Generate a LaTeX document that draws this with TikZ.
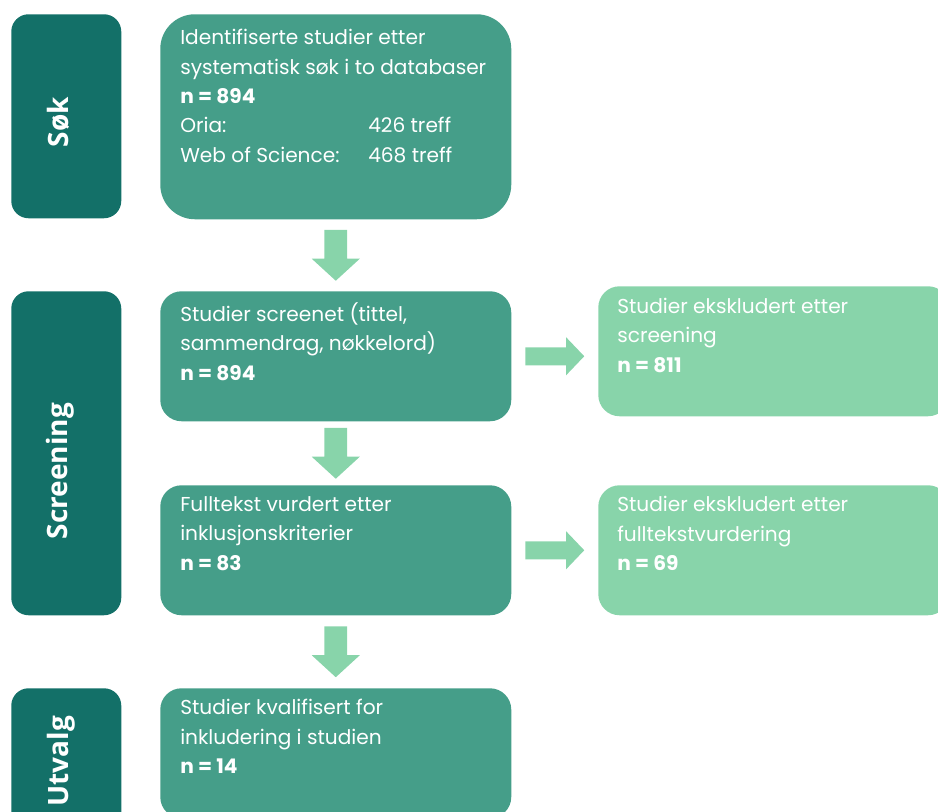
\documentclass[tikz,border=0pt]{standalone}
\usepackage{fontspec}
\setmainfont{Poppins}
\newfontfamily\labelfont{Open Sans}
\usetikzlibrary{positioning, calc}
\definecolor{darkteal}{RGB}{19,112,104}
\definecolor{midteal}{RGB}{69,158,137}
\definecolor{mintgreen}{RGB}{136,212,170}

\tikzset{
  phase/.style={fill=darkteal, rounded corners=13pt, anchor=north west,
    minimum width=82.5pt, inner sep=0pt},
  phasetext/.style={rotate=90, anchor=base, text=white,
    font=\labelfont\bfseries\fontsize{21}{25}\selectfont},
  stepbox/.style={fill=midteal, rounded corners=16pt, anchor=north west,
    minimum width=263.25pt, minimum height=97.5pt, inner sep=0pt},
  outbox/.style={stepbox, fill=mintgreen},
  boxtext/.style={anchor=north west, inner sep=0pt, align=left, text=white,
    font=\fontsize{15.1}{22}\selectfont},
  flowarrow/.style={fill=mintgreen}
}

\begin{document}
\begin{tikzpicture}[x=1pt, y=-1pt]
\useasboundingbox (0,0) rectangle (703.5,609);
\clip (0,0) rectangle (703.5,609);

% phases on the left
\node[phase, minimum height=153pt] (sok) at (8.25,10.5) {};
\node[phase, minimum height=243pt] (screening) at (8.25,218.25) {};
\node[phase, minimum height=108pt] (utvalg) at (8.25,516) {};
\node[phasetext] (soklabel) at (51,91.5) {Søk};
\node[phasetext] (screeninglabel) at (50.25,353.25) {Screening};
\node[phasetext] (utvalglabel) at (51,571) {Utvalg};

% main flow
\node[stepbox, minimum height=153.75pt, rounded corners=26pt] (ident) at (120,10.5) {};
\node[stepbox] (screened) at (120,218.25) {};
\node[stepbox] (fulltext) at (120,363.75) {};
\node[stepbox] (included) at (120,516) {};

% excluded
\node[outbox] (excl1) at (448.5,214.5) {};
\node[outbox] (excl2) at (448.5,363.75) {};

% texts
\node[boxtext] (identtext) at ($(ident.north west)+(15,11.5)$)
  {Identifiserte studier etter\\systematisk søk i to databaser\\\textbf{n = 894}\\
   \makebox[141pt][l]{Oria:}426 treff\\\makebox[141pt][l]{Web of Science:}468 treff};
\node[boxtext] (screenedtext) at ($(screened.north west)+(15,8.5)$)
  {Studier screenet (tittel,\\sammendrag, nøkkelord)\\\textbf{n = 894}};
\node[boxtext] (fulltexttext) at ($(fulltext.north west)+(15,8.5)$)
  {Fulltekst vurdert etter\\inklusjonskriterier\\\textbf{n = 83}};
\node[boxtext] (includedtext) at ($(included.north west)+(15,8.5)$)
  {Studier kvalifisert for\\inkludering i studien\\\textbf{n = 14}};
\node[boxtext] (excl1text) at ($(excl1.north west)+(14.25,9)$)
  {Studier ekskludert etter\\screening\\\textbf{n = 811}};
\node[boxtext] (excl2text) at ($(excl2.north west)+(14.25,8.5)$)
  {Studier ekskludert etter\\fulltekstvurdering\\\textbf{n = 69}};

% arrows down
\foreach \a/\b in {ident/screened, screened/fulltext, fulltext/included} {
  \coordinate (m) at ($(\a.south)!0.5!(\b.north)$);
  \fill[flowarrow] ($(m)+(-8.6,-19.1)$) -- ++(17.2,0) -- ++(0,21.7)
    -- ++(9.4,0) -- ($(m)+(0,19.1)$) -- ($(m)+(-18,2.6)$) -- ++(9.4,0) -- cycle;
}
% arrows right
\foreach \a/\b in {screened/excl1, fulltext/excl2} {
  \coordinate (m) at ($(\a.east)!0.5!(\b.west |- \a.east)$);
  \fill[flowarrow] ($(m)+(-22.1,-6.75)$) -- ++(30.6,0) -- ++(0,-7.5)
    -- ($(m)+(22.1,0)$) -- ($(m)+(8.5,14.25)$) -- ++(0,-7.5) -- ++(-30.6,0) -- cycle;
}
\end{tikzpicture}
\end{document}
